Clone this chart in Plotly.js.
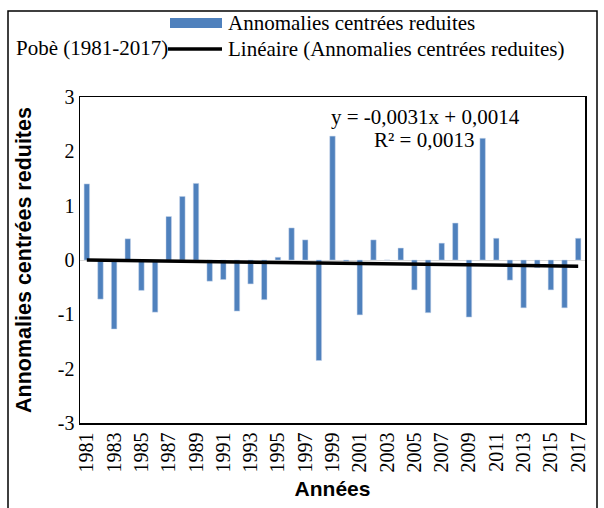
<!DOCTYPE html>
<html>
<head>
<meta charset="utf-8">
<script src="https://cdn.plot.ly/plotly-3.0.1.min.js"></script>
<style>
html,body{margin:0;padding:0;background:#fff;}
#chart{width:604px;height:508px;}
</style>
</head>
<body>
<div id="chart"></div>
<script>
const years = [1981,1982,1983,1984,1985,1986,1987,1988,1989,1990,1991,1992,1993,1994,1995,1996,1997,1998,1999,2000,2001,2002,2003,2004,2005,2006,2007,2008,2009,2010,2011,2012,2013,2014,2015,2016,2017];
const anomalies = [1.40,-0.72,-1.27,0.39,-0.56,-0.96,0.80,1.17,1.41,-0.39,-0.36,-0.94,-0.44,-0.73,0.05,0.59,0.37,-1.85,2.28,-0.02,-1.01,0.37,0.0,0.22,-0.55,-0.97,0.31,0.68,-1.05,2.24,0.40,-0.37,-0.88,-0.14,-0.55,-0.88,0.40];
const trendSlope = -0.0031;
const trendIntercept = 0.0014;
const yTicks = [-3,-2,-1,0,1,2,3];
const seriesName = "Annomalies centrées reduites";
const trendName = "Linéaire (Annomalies centrées reduites)";
const chartTitle = "Pobè (1981-2017)";
const equationText = "y = -0,0031x + 0,0014";
const r2Text = "R² = 0,0013";

const trendY = years.map((y, i) => trendSlope * (i + 1) + trendIntercept);

const serif = "Liberation Serif, Times New Roman, serif";
const sans = "Liberation Sans, Arial, sans-serif";

const W = 604, H = 508, L = 80, R = 19, T = 97, B = 85;
const pw = W - L - R, ph = H - T - B;
const px = v => (v - L) / pw;
const py = v => (H - B - v) / ph;

const data = [
  {type: 'bar', x: years, y: anomalies, name: seriesName,
   marker: {color: '#4F81BD', line: {color: '#c6d5ea', width: 0.5}}, showlegend: false},
  {type: 'scatter', mode: 'lines', x: years, y: trendY, name: trendName,
   line: {color: '#000', width: 3.5}, showlegend: false}
];

const layout = {
  width: W, height: H,
  margin: {l: L, r: R, t: T, b: B, pad: 0},
  paper_bgcolor: '#fff', plot_bgcolor: '#fff',
  bargap: 0.6,
  xaxis: {
    range: [1980.5, 2017.5], tick0: 1981, dtick: 2, tickmode: 'linear',
    tickangle: -90, ticks: '', showgrid: false, zeroline: false,
    showline: true, linecolor: '#000', linewidth: 1.5, mirror: true,
    tickfont: {family: serif, size: 20, color: '#000'},
    title: {text: '<b>Années</b>', font: {family: sans, size: 21, color: '#000'}, standoff: 10}
  },
  yaxis: {
    range: [-3, 3], tickvals: yTicks, ticktext: yTicks.map(String),
    ticks: '', showgrid: false, zeroline: true, zerolinecolor: '#d9d9d9', zerolinewidth: 1,
    showline: true, linecolor: '#000', linewidth: 1.5, mirror: true,
    tickfont: {family: serif, size: 20, color: '#000'},
    title: {text: '<b>Annomalies centrées reduites</b>', font: {family: sans, size: 21.5, color: '#000'}, standoff: 20}
  },
  shapes: [
    {type: 'rect', xref: 'paper', yref: 'paper', x0: px(8), x1: px(597), y0: py(512), y1: py(11),
     line: {color: '#000', width: 1.5}, fillcolor: 'rgba(0,0,0,0)', layer: 'below'},
    {type: 'rect', xref: 'paper', yref: 'paper', x0: px(170), x1: px(222), y0: py(28), y1: py(18),
     line: {width: 0}, fillcolor: '#4F81BD'},
    {type: 'line', xref: 'paper', yref: 'paper', x0: px(168), x1: px(222), y0: py(49), y1: py(49),
     line: {color: '#000', width: 3.5}}
  ],
  annotations: [
    {xref: 'paper', yref: 'paper', x: px(226), y: py(23), xanchor: 'left', yanchor: 'middle',
     text: seriesName, showarrow: false, font: {family: serif, size: 21, color: '#000'}},
    {xref: 'paper', yref: 'paper', x: px(226), y: py(49), xanchor: 'left', yanchor: 'middle',
     text: trendName, showarrow: false, font: {family: serif, size: 21, color: '#000'}},
    {xref: 'paper', yref: 'paper', x: px(14), y: py(48), xanchor: 'left', yanchor: 'middle',
     text: chartTitle, showarrow: false, font: {family: serif, size: 21, color: '#000'}},
    {xref: 'paper', yref: 'paper', x: px(425), y: py(117), xanchor: 'center', yanchor: 'middle',
     text: equationText, showarrow: false, font: {family: serif, size: 21, color: '#000'}},
    {xref: 'paper', yref: 'paper', x: px(424), y: py(140), xanchor: 'center', yanchor: 'middle',
     text: r2Text, showarrow: false, font: {family: serif, size: 21, color: '#000'}}
  ]
};

Plotly.newPlot('chart', data, layout, {displayModeBar: false, staticPlot: true});
</script>
</body>
</html>
